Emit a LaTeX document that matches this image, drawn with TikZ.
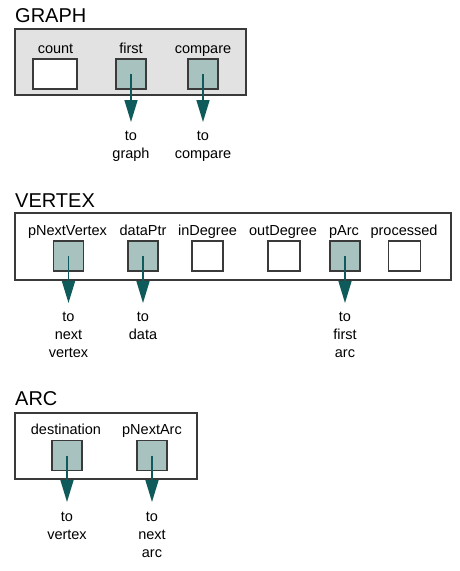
\documentclass[tikz,border=0pt]{standalone}
\usepackage{fontspec}
\setmainfont{Liberation Sans}
\usetikzlibrary{arrows.meta}
\definecolor{ptrfill}{HTML}{A8C2BF}
\definecolor{arrowc}{HTML}{0F5A5A}
\definecolor{panelgray}{HTML}{E2E2E2}
\definecolor{edgec}{HTML}{3A3A3A}
\begin{document}
\begin{tikzpicture}[x=1pt,y=-1pt,
  title/.style={font=\fontsize{20}{24}\selectfont, anchor=base west, inner sep=0},
  panelbox/.style={draw=edgec, line width=1.2pt},
  field/.style={font=\fontsize{14.5}{17}\selectfont, anchor=base, inner sep=0},
  cell/.style={draw=edgec, line width=1.2pt, minimum width=30pt, minimum height=30pt, inner sep=0, fill=white},
  ptr/.style={cell, fill=ptrfill},
  link/.style={draw=arrowc, line width=1.5pt, -{Triangle[length=22pt,width=13pt]}},
  dest/.style={font=\fontsize{14.5}{17.8}\selectfont, align=center, anchor=north, inner sep=0}
]
\useasboundingbox (0,0) rectangle (460,571);

% ---------- GRAPH ----------
\node[title] (tgraph) at (15,22) {GRAPH};
\path[panelbox, fill=panelgray] (15,29) rectangle (246,95);
\node[field] (lcount) at (55.5,53) {count};
\node[field] (lfirst) at (131,53) {first};
\node[field] (lcompare) at (203,53) {compare};
\node[cell, minimum width=44pt] (count) at (55,74) {};
\node[ptr] (first) at (131,74) {};
\node[ptr] (compare) at (203,74) {};
\coordinate (gfirst) at (131,122);
\coordinate (gcompare) at (203,122);
\draw[link] (first.center) -- (gfirst);
\draw[link] (compare.center) -- (gcompare);
\node[dest] (dfirst) at (131,131) {to\\graph};
\node[dest] (dcompare) at (203,131) {to\\compare};

% ---------- VERTEX ----------
\node[title] (tvertex) at (15,207) {VERTEX};
\path[panelbox, fill=white] (15,213) rectangle (451,280);
\node[field] (lpnv) at (67.5,235) {pNextVertex};
\node[field] (ldp) at (143,235) {dataPtr};
\node[field] (lind) at (207.5,235) {inDegree};
\node[field] (loutd) at (283,235) {outDegree};
\node[field] (lparc) at (344,235) {pArc};
\node[field] (lproc) at (404,235) {processed};
\node[ptr] (pnv) at (68.5,256) {};
\node[ptr] (dp) at (143,256) {};
\node[cell, minimum width=31pt] (ind) at (207.5,256) {};
\node[cell, minimum width=32pt] (outd) at (284,256) {};
\node[ptr] (parc) at (345,256) {};
\node[cell, minimum width=32pt] (proc) at (404.5,256) {};
\coordinate (gpnv) at (68.5,303);
\coordinate (gdp) at (143,303);
\coordinate (gparc) at (345,303);
\draw[link] (pnv.center) -- (gpnv);
\draw[link] (dp.center) -- (gdp);
\draw[link] (parc.center) -- (gparc);
\node[dest] (dpnv) at (68.5,312) {to\\next\\vertex};
\node[dest] (ddp) at (143,312) {to\\data};
\node[dest] (dparc) at (345,312) {to\\first\\arc};

% ---------- ARC ----------
\node[title] (tarc) at (15,405) {ARC};
\path[panelbox, fill=white] (15,413) rectangle (197,479);
\node[field] (ldest) at (66,434) {destination};
\node[field] (lpna) at (152,434) {pNextArc};
\node[ptr] (dest) at (67,455.5) {};
\node[ptr] (pna) at (152,455.5) {};
\coordinate (gdest) at (67,502);
\coordinate (gpna) at (152,502);
\draw[link] (dest.center) -- (gdest);
\draw[link] (pna.center) -- (gpna);
\node[dest] (ddest) at (67,512) {to\\vertex};
\node[dest] (dpna) at (152,512) {to\\next\\arc};
\end{tikzpicture}
\end{document}
